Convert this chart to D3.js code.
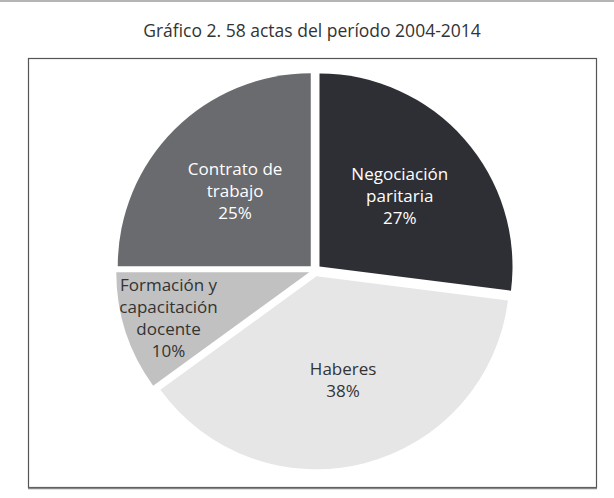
<!DOCTYPE html>
<html>
<head>
<meta charset="utf-8">
<script src="https://cdn.jsdelivr.net/npm/d3@7"></script>
<style>
  body { margin: 0; background: #fff; }
</style>
</head>
<body>
<div id="plot"></div>
<script>
// slices, clockwise from 12 o'clock
const categories = ["Negociación paritaria", "Haberes", "Formación y capacitación docente", "Contrato de trabajo"];
const values = [27, 38, 10, 25];
const labelLines = [["Negociación", "paritaria"], ["Haberes"], ["Formación y", "capacitación", "docente"], ["Contrato de", "trabajo"]];
const colors = ["#2e2f34", "#e6e6e6", "#c1c1c1", "#6a6b6e"];
const textColors = ["#ffffff", "#333333", "#333333", "#ffffff"];
const title = "Gráfico 2. 58 actas del período 2004-2014";

const width = 614;
const height = 498;
const cx = 315;
const cy = 270.5;
const radius = 193;
const explode = 6;
const font = "'Open Sans', 'Noto Sans', sans-serif";

const svg = d3.create("svg")
    .attr("width", width)
    .attr("height", height)
    .attr("viewBox", [0, 0, width, height]);

// thin rule at the very top
svg.append("rect")
    .attr("x", 0).attr("y", 0)
    .attr("width", width).attr("height", 2)
    .attr("fill", "#b5b5b5");

svg.append("text")
    .attr("x", 312)
    .attr("y", 37)
    .attr("text-anchor", "middle")
    .style("font-family", font)
    .style("font-size", "17.5px")
    .attr("fill", "#333")
    .text(title);

// frame
svg.append("rect")
    .attr("x", 28.5).attr("y", 58.5)
    .attr("width", 568).attr("height", 429)
    .attr("fill", "none")
    .attr("stroke", "#555")
    .attr("stroke-width", 1.2);
svg.append("line")
    .attr("x1", 28).attr("x2", 597)
    .attr("y1", 488.5).attr("y2", 488.5)
    .attr("stroke", "#888")
    .attr("stroke-width", 1.5);

const data = categories.map((c, i) => ({name: c, value: values[i], lines: labelLines[i], i: i}));

const pie = d3.pie().sort(null).value(d => d.value);
const arc = d3.arc().innerRadius(0).outerRadius(radius);

const arcs = pie(data);

const g = svg.append("g").attr("transform", `translate(${cx},${cy})`);

const slice = g.selectAll("g.slice")
  .data(arcs)
  .join("g")
    .attr("class", "slice")
    .attr("transform", d => {
      const a = (d.startAngle + d.endAngle) / 2;
      return `translate(${explode * Math.sin(a)},${-explode * Math.cos(a)})`;
    });

slice.append("path")
    .attr("d", arc)
    .attr("fill", (d, i) => colors[i]);

const lineH = 22;
slice.each(function(d, i) {
  const a = (d.startAngle + d.endAngle) / 2;
  const r = d.data.value < 15 ? 148 : 107;
  const lx = r * Math.sin(a);
  const ly = -r * Math.cos(a);
  const lines = d.data.lines.concat([d.data.value + "%"]);
  const t = d3.select(this).append("text")
      .attr("text-anchor", "middle")
      .style("font-family", font)
      .style("font-size", "17px")
      .attr("fill", textColors[i]);
  lines.forEach((s, k) => {
    t.append("tspan")
        .attr("x", lx)
        .attr("y", ly + (k - (lines.length - 1) / 2) * lineH + 6)
        .text(s);
  });
});

document.querySelector("#plot").append(svg.node());
</script>
</body>
</html>
